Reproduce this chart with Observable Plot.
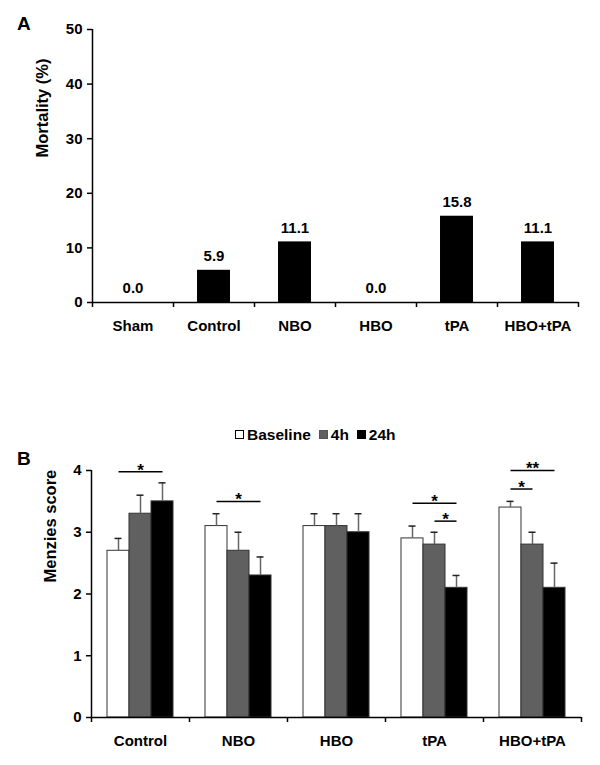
<!DOCTYPE html>
<html><head><meta charset="utf-8">
<script src="https://cdn.jsdelivr.net/npm/d3@7"></script>
<script src="https://cdn.jsdelivr.net/npm/@observablehq/plot@0.6"></script>
<style>
body{margin:0;background:#fff;font-family:"Liberation Sans",Arial,sans-serif;color:#000;}
#wrap{position:relative;width:600px;height:765px;overflow:hidden;background:#fff;}
.pl{position:absolute;left:17px;font-weight:bold;font-size:19px;line-height:19px;z-index:3;}
#chartA{position:absolute;left:0;top:0;z-index:1;}
#chartB{position:absolute;left:0;top:440px;z-index:1;}
#legend{position:absolute;top:426px;left:235px;display:flex;align-items:center;font-weight:bold;font-size:15.5px;line-height:17px;z-index:3;}
.item{display:flex;align-items:center;margin-right:8px;}
.sw{width:7px;height:7px;display:inline-block;margin-right:3px;border:1px solid #000;}
</style></head><body>
<div id="wrap">
 <div id="chartA"></div><div id="chartB"></div>
 <div class="pl" style="top:14px">A</div>
 <div class="pl" style="top:449px">B</div>
 <div id="legend"></div>
</div>
<script>
// ---- Panel A data ----
const groupsA = ["Sham", "Control", "NBO", "HBO", "tPA", "HBO+tPA"];
const mortality = [0.0, 5.9, 11.1, 0.0, 15.8, 11.1];
const ticksA = [0, 10, 20, 30, 40, 50];

// ---- Panel B data ----
const groupsB = ["Control", "NBO", "HBO", "tPA", "HBO+tPA"];
const timepoints = ["Baseline", "4h", "24h"];
const scoreBaseline = [2.7, 3.1, 3.1, 2.9, 3.4];
const score4h = [3.3, 2.7, 3.1, 2.8, 2.8];
const score24h = [3.5, 2.3, 3.0, 2.1, 2.1];
const errBaseline = [0.2, 0.2, 0.2, 0.2, 0.1];
const err4h = [0.3, 0.3, 0.2, 0.2, 0.2];
const err24h = [0.3, 0.3, 0.3, 0.2, 0.4];
const ticksB = [0, 1, 2, 3, 4];
const timeColors = ["#ffffff", "#606060", "#000000"];

// significance brackets
const sigGroup = ["Control", "NBO", "tPA", "tPA", "HBO+tPA", "HBO+tPA"];
const sigFrom = ["Baseline", "Baseline", "Baseline", "4h", "Baseline", "Baseline"];
const sigTo = ["24h", "24h", "24h", "24h", "24h", "4h"];
const sigLevel = [3.98, 3.5, 3.47, 3.18, 4.0, 3.7];
const sigLabel = ["*", "*", "*", "*", "**", "*"];

const FONT = '"Liberation Sans", Arial, sans-serif';
const baseStyle = {fontFamily: FONT, fontSize: "15px", fontWeight: "bold", color: "#000", background: "transparent", overflow: "visible"};
const AX = {stroke: "#000", strokeWidth: 1.5};

// ---- Panel A ----
const mA = {width: 600, height: 345, left: 92, right: 22, top: 29, bottom: 43};
const stepA = (mA.width - mA.left - mA.right) / groupsA.length;
const dataA = groupsA.map((g, i) => ({group: g, value: mortality[i]}));
const lastA = groupsA[groupsA.length - 1];
const chartA = Plot.plot({
  width: mA.width, height: mA.height,
  marginLeft: mA.left, marginRight: mA.right, marginTop: mA.top, marginBottom: mA.bottom,
  style: baseStyle,
  x: {domain: groupsA, paddingInner: 0.593, paddingOuter: 0.2965, round: false, label: null},
  y: {domain: [0, 50], label: null},
  marks: [
    Plot.barY(dataA, {x: "group", y: "value", fill: "#000"}),
    Plot.text(dataA, {x: "group", y: "value", text: d => d.value.toFixed(1), dy: -14, fontSize: 15, fontWeight: "bold"}),
    Plot.ruleY([0], AX),
    // y-axis line at the left edge of the first category
    Plot.ruleX([groupsA[0]], {x: d => d, y1: 0, y2: 50, dx: -stepA / 2, ...AX}),
    // category-boundary ticks
    Plot.ruleX(groupsA, {x: d => d, y1: 0, y2: 0, dx: -stepA / 2, insetBottom: -5, ...AX}),
    Plot.ruleX([lastA], {x: d => d, y1: 0, y2: 0, dx: stepA / 2, insetBottom: -5, ...AX}),
    Plot.axisY({ticks: ticksA, tickFormat: d => String(d), tickSize: 5, tickPadding: 5, label: null, ...AX, fontSize: 15, fontWeight: "bold"}),
    Plot.axisX({tickSize: 0, tickPadding: 18, label: null, fontSize: 15, fontWeight: "bold"}),
    Plot.text(["Mortality (%)"], {frameAnchor: "left", rotate: -90, dx: -50, dy: -8.5, fontSize: 16.5, fontWeight: "bold"})
  ]
});
document.getElementById("chartA").append(chartA);

// ---- Panel B ----
const mB = {width: 600, height: 325, left: 91, right: 19, top: 30, bottom: 48};
const errs = [errBaseline, err4h, err24h];
const scores = [scoreBaseline, score4h, score24h];
const dataB = groupsB.flatMap((g, i) => timepoints.map((t, j) => ({group: g, time: t, value: scores[j][i], err: errs[j][i]})));
const sigData = sigGroup.map((g, i) => ({group: g, from: sigFrom[i], to: sigTo[i], level: sigLevel[i], label: sigLabel[i]}));
const wideSig = sigData.filter(d => d.from === "Baseline" && d.to === "24h");
const narrowSig = sigData.filter(d => !(d.from === "Baseline" && d.to === "24h"));

const padOuter = 0.727;
const facetW = (mB.width - mB.left - mB.right) / groupsB.length;
const barStep = facetW / (timepoints.length + 2 * padOuter);
const edgeOff = (padOuter + 0.5) * barStep;
const firstT = timepoints[0], lastT = timepoints[timepoints.length - 1];
const lastB = groupsB[groupsB.length - 1];

const chartB = Plot.plot({
  width: mB.width, height: mB.height,
  marginLeft: mB.left, marginRight: mB.right, marginTop: mB.top, marginBottom: mB.bottom,
  style: baseStyle,
  fx: {domain: groupsB, padding: 0, round: false, label: null},
  x: {domain: timepoints, paddingInner: 0, paddingOuter: padOuter, round: false, axis: null, label: null},
  y: {domain: [0, 4], label: null},
  color: {domain: timepoints, range: timeColors},
  marks: [
    Plot.barY(dataB, {fx: "group", x: "time", y: "value", fill: "time", stroke: "#333", strokeWidth: 1}),
    Plot.ruleX(dataB, {fx: "group", x: "time", y1: "value", y2: d => d.value + d.err, stroke: "#666", strokeWidth: 1.5}),
    Plot.tickY(dataB, {fx: "group", x: "time", y: d => d.value + d.err, insetLeft: 7.5, insetRight: 7.5, stroke: "#222", strokeWidth: 1.5}),
    Plot.link(sigData, {fx: "group", x1: "from", x2: "to", y1: "level", y2: "level", stroke: "#000", strokeWidth: 1.5}),
    Plot.text(wideSig, {fx: "group", x: () => "4h", y: "level", text: "label", dy: -1.5, fontSize: 17, fontWeight: "bold"}),
    Plot.text(narrowSig, {fx: "group", x: "to", y: "level", text: "label", dx: -barStep / 2, dy: -1.5, fontSize: 17, fontWeight: "bold"}),
    Plot.ruleY([0], AX),
    // y-axis line and category-boundary ticks
    Plot.ruleX([groupsB[0]], {fx: d => d, x: () => firstT, y1: 0, y2: 4, dx: -edgeOff, ...AX}),
    Plot.ruleX(groupsB, {fx: d => d, x: () => firstT, y1: 0, y2: 0, dx: -edgeOff, insetBottom: -5, ...AX}),
    Plot.ruleX([lastB], {fx: d => d, x: () => lastT, y1: 0, y2: 0, dx: edgeOff, insetBottom: -5, ...AX}),
    Plot.axisY({ticks: ticksB, tickFormat: d => String(d), tickSize: 5, tickPadding: 5, label: null, ...AX, fontSize: 15, fontWeight: "bold"}),
    Plot.axisFx({anchor: "bottom", tickSize: 0, tickPadding: 18, label: null, fontSize: 15, fontWeight: "bold"}),
    Plot.text(["Menzies score"], {fx: () => groupsB[0], frameAnchor: "left", rotate: -90, dx: -41, dy: -11.5, fontSize: 16.5, fontWeight: "bold"})
  ]
});
document.getElementById("chartB").append(chartB);

// ---- Legend ----
const legend = d3.select("#legend");
timepoints.forEach((t, i) => {
  const it = legend.append("div").attr("class", "item");
  it.append("span").attr("class", "sw").style("background", timeColors[i]).style("border-color", i === 1 ? "#555" : "#000");
  it.append("span").text(t);
});
</script>
</body></html>
